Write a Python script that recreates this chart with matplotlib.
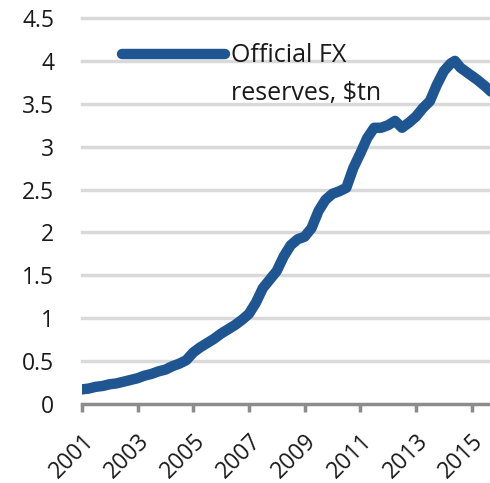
import matplotlib
matplotlib.use("Agg")
import matplotlib.pyplot as plt

# China official FX reserves, $tn
years = [2001.0, 2001.25, 2001.5, 2001.75, 2002.0, 2002.25, 2002.5, 2002.75,
         2003.0, 2003.25, 2003.5, 2003.75, 2004.0, 2004.25, 2004.5, 2004.75,
         2005.0, 2005.25, 2005.5, 2005.75, 2006.0, 2006.25, 2006.5, 2006.75,
         2007.0, 2007.25, 2007.5, 2007.75, 2008.0, 2008.25, 2008.5, 2008.75,
         2009.0, 2009.25, 2009.5, 2009.75, 2010.0, 2010.25, 2010.5, 2010.75,
         2011.0, 2011.25, 2011.5, 2011.75, 2012.0, 2012.25, 2012.5, 2012.75,
         2013.0, 2013.25, 2013.5, 2013.75, 2014.0, 2014.25, 2014.4, 2014.6,
         2014.9, 2015.2, 2015.5, 2015.7]
reserves = [0.17, 0.18, 0.20, 0.21, 0.23, 0.24, 0.26, 0.28,
            0.30, 0.33, 0.35, 0.38, 0.40, 0.44, 0.47, 0.51,
            0.60, 0.66, 0.71, 0.76, 0.82, 0.87, 0.92, 0.98,
            1.05, 1.18, 1.35, 1.45, 1.55, 1.72, 1.85, 1.92,
            1.95, 2.05, 2.25, 2.38, 2.45, 2.48, 2.52, 2.75,
            2.92, 3.10, 3.22, 3.22, 3.25, 3.30, 3.22, 3.28,
            3.35, 3.45, 3.53, 3.72, 3.88, 3.97, 4.00, 3.92,
            3.85, 3.78, 3.70, 3.64]

xticks = [2001, 2003, 2005, 2007, 2009, 2011, 2013, 2015]
yticks = [0, 0.5, 1, 1.5, 2, 2.5, 3, 3.5, 4, 4.5]
ytick_labels = ["0", "0.5", "1", "1.5", "2", "2.5", "3", "3.5", "4", "4.5"]

plt.rcParams["font.family"] = ["Open Sans", "DejaVu Sans"]

fig = plt.figure(figsize=(4.9, 4.83), dpi=100, facecolor="white")
ax = fig.add_axes([0.167, 0.1636, 0.833, 0.7992])

line, = ax.plot(years, reserves, color="#1f5591", linewidth=7.5,
                solid_capstyle="round", solid_joinstyle="round",
                label="Official FX", zorder=3)

ax.set_xlim(2001, 2015.66)
ax.set_ylim(0, 4.5)
ax.set_yticks(yticks)
ax.set_yticklabels(ytick_labels)
ax.set_xticks(xticks)
ax.set_xticklabels([str(y) for y in xticks], rotation=45, ha="right",
                   rotation_mode="anchor")

for v in yticks[1:]:
    ax.axhline(v, color="#d9d9d9", linewidth=2.5, zorder=1, clip_on=False)

for s in ["top", "right", "left"]:
    ax.spines[s].set_visible(False)
ax.spines["bottom"].set_color("#8c8c8c")
ax.spines["bottom"].set_linewidth(2.5)

ax.tick_params(axis="y", length=0, labelsize=16.5, pad=20, colors="#1a1a1a")
ax.tick_params(axis="x", length=6, width=2.5, color="#8c8c8c",
               labelsize=16.5, pad=12, labelcolor="#1a1a1a")

# legend: handle sits on the first line, second line hangs below it
leg = ax.legend(loc="upper left", bbox_to_anchor=(0.075, 0.96), frameon=False,
                fontsize=18, handlelength=4.1, handletextpad=0.25,
                borderaxespad=0)
first = leg.get_texts()[0]
first.set_color("#1a1a1a")
ax.annotate("reserves, $tn", xy=(0, 0), xycoords=first,
            xytext=(0, -9), textcoords="offset points",
            ha="left", va="top", fontsize=18, color="#1a1a1a", zorder=6)

fig.canvas.draw()
fig.savefig("out.png", dpi=100, facecolor="white")
